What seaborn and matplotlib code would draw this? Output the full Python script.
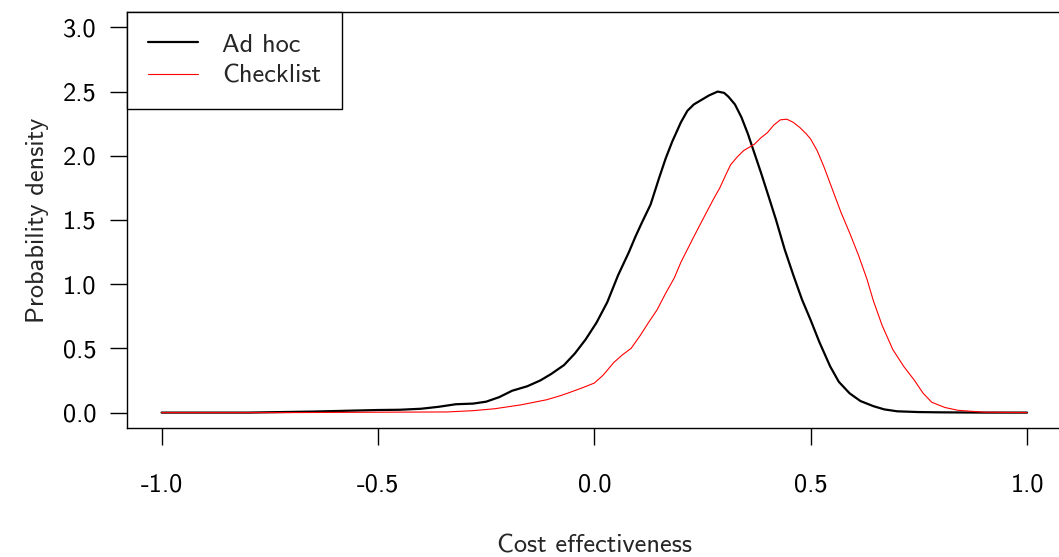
import seaborn as sns
import pandas as pd
import matplotlib.pyplot as plt

# 数据（从图上读取的密度曲线点）
adhoc_x = [-1.0, -0.8, -0.65, -0.5, -0.45, -0.40, -0.36, -0.32, -0.28, -0.25, -0.22,
           -0.19, -0.155, -0.125, -0.10, -0.07, -0.045, -0.02, 0.005, 0.03, 0.055,
           0.08, 0.095, 0.11, 0.13, 0.15, 0.165, 0.18, 0.20, 0.215, 0.23, 0.245,
           0.265, 0.285, 0.30, 0.31, 0.325, 0.34, 0.355, 0.365, 0.385, 0.405, 0.42,
           0.44, 0.46, 0.48, 0.50, 0.52, 0.545, 0.565, 0.59, 0.615, 0.645, 0.67,
           0.70, 0.75, 0.8, 0.9, 1.0]
adhoc_y = [0.0, 0.0, 0.008, 0.02, 0.022, 0.03, 0.045, 0.065, 0.07, 0.085, 0.12,
           0.17, 0.205, 0.25, 0.30, 0.37, 0.46, 0.57, 0.70, 0.86, 1.07,
           1.25, 1.37, 1.48, 1.62, 1.83, 1.98, 2.11, 2.26, 2.35, 2.40, 2.43,
           2.47, 2.50, 2.49, 2.46, 2.40, 2.30, 2.17, 2.07, 1.87, 1.66, 1.50,
           1.27, 1.07, 0.88, 0.72, 0.55, 0.36, 0.24, 0.15, 0.09, 0.05, 0.025,
           0.01, 0.004, 0.002, 0.0, 0.0]

checklist_x = [-1.0, -0.7, -0.5, -0.34, -0.28, -0.23, -0.17, -0.11, -0.08, -0.06, -0.03,
               0.0, 0.02, 0.045, 0.065, 0.085, 0.106, 0.125, 0.145, 0.165, 0.185,
               0.20, 0.215, 0.23, 0.25, 0.275, 0.29, 0.305, 0.315, 0.33, 0.345, 0.37,
               0.385, 0.40, 0.415, 0.43, 0.445, 0.46, 0.475, 0.49, 0.50, 0.515, 0.53,
               0.55, 0.57, 0.59, 0.61, 0.63, 0.645, 0.665, 0.69, 0.715, 0.74, 0.76,
               0.78, 0.81, 0.84, 0.9, 1.0]
checklist_y = [0.0, 0.0, 0.003, 0.005, 0.015, 0.03, 0.06, 0.10, 0.13, 0.153, 0.19,
               0.23, 0.29, 0.39, 0.45, 0.50, 0.60, 0.70, 0.80, 0.93, 1.05,
               1.17, 1.27, 1.37, 1.50, 1.66, 1.75, 1.86, 1.93, 1.99, 2.04, 2.09,
               2.14, 2.18, 2.24, 2.28, 2.285, 2.26, 2.22, 2.17, 2.13, 2.04, 1.92,
               1.74, 1.56, 1.40, 1.23, 1.04, 0.87, 0.68, 0.49, 0.36, 0.25, 0.15,
               0.08, 0.04, 0.018, 0.003, 0.0]

x_ticks = [-1.0, -0.5, 0.0, 0.5, 1.0]
x_tick_labels = ["-1.0", "-0.5", "0.0", "0.5", "1.0"]
y_ticks = [0.0, 0.5, 1.0, 1.5, 2.0, 2.5, 3.0]
y_tick_labels = ["0.0", "0.5", "1.0", "1.5", "2.0", "2.5", "3.0"]

adhoc = pd.DataFrame({"x": adhoc_x, "y": adhoc_y})
checklist = pd.DataFrame({"x": checklist_x, "y": checklist_y})

# 样式
sns.set_style("ticks")
plt.rcParams['font.family'] = ['cmss10', 'DejaVu Sans']
plt.rcParams['axes.unicode_minus'] = False
plt.rcParams['font.size'] = 19

fig = plt.figure(figsize=(10.59, 5.57), dpi=100)
ax = fig.add_axes([0.1199, 0.2316, 0.8826, 0.7469])

sns.lineplot(data=adhoc, x="x", y="y", ax=ax, color="black", linewidth=1.6,
             label="Ad hoc", sort=False)
sns.lineplot(data=checklist, x="x", y="y", ax=ax, color="red", linewidth=0.8,
             label="Checklist", sort=False)

ax.set_xlim(-1.08, 1.08)
ax.set_ylim(-0.12, 3.12)
ax.set_xticks(x_ticks)
ax.set_xticklabels(x_tick_labels)
ax.set_yticks(y_ticks)
ax.set_yticklabels(y_tick_labels)
ax.tick_params(axis="both", direction="out", length=12, width=1, color="black",
               labelsize=19, labelcolor="black")
ax.tick_params(axis="x", pad=21)
ax.tick_params(axis="y", pad=10)
for s in ax.spines.values():
    s.set_color("black")
    s.set_linewidth(1)

ax.set_xlabel("Cost effectiveness", fontsize=19, labelpad=27)
ax.set_ylabel("Probability density", fontsize=19, labelpad=10)

leg = ax.legend(loc="upper left", borderaxespad=0, fancybox=False, frameon=True,
                edgecolor="black", framealpha=1, fontsize=19, handlelength=1.9,
                handletextpad=0.9, borderpad=0.8, labelspacing=0.3)
leg.get_frame().set_linewidth(1)

fig.savefig("out.png", dpi=100)
